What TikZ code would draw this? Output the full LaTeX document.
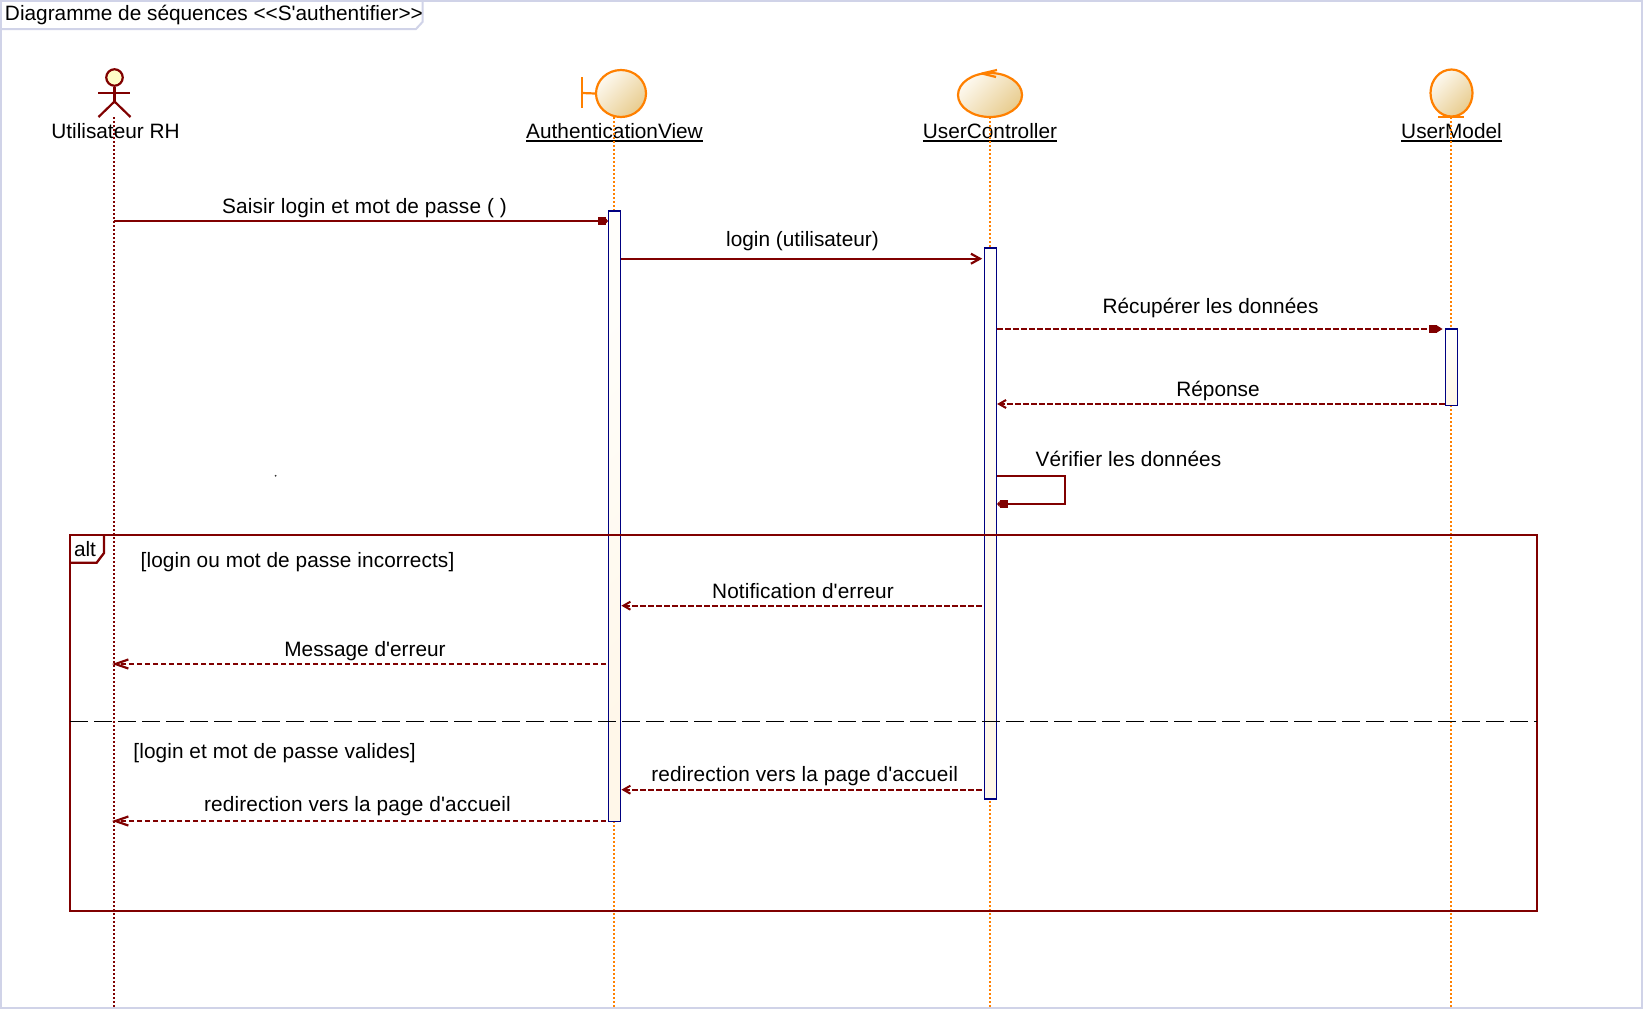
\documentclass[tikz,border=0pt]{standalone}
\usepackage{fontspec}
\setmainfont{Liberation Sans}[Ligatures=TeXOff]
\usetikzlibrary{arrows.meta,shapes.geometric}
\definecolor{frameblue}{HTML}{D0D3E8}
\definecolor{msgred}{HTML}{800000}
\definecolor{objorange}{HTML}{FF8000}
\definecolor{actnavy}{HTML}{000080}
\definecolor{objlight}{HTML}{FDF9F0}
\definecolor{objdark}{HTML}{E8CC8E}
\definecolor{actlight}{HTML}{FFFEFB}
\definecolor{actdark}{HTML}{FFF7E9}
\tikzset{
  txt/.style={font=\fontsize{20.8}{24}\selectfont,inner sep=0pt,outer sep=0pt,anchor=base,text=black},
  spaced/.style={font=\fontsize{20.8}{24}\selectfont\addfontfeature{LetterSpace=#1}},
  objname/.style={txt},
  underl/.style={black,line width=2.2pt},
  lifeorange/.style={objorange,line width=2.2pt,dash pattern=on 2pt off 2pt},
  lifered/.style={msgred,line width=2.2pt,dash pattern=on 2pt off 2pt},
  objshape/.style={ellipse,draw=objorange,line width=2.2pt,inner sep=0pt,top color=objlight,bottom color=objdark,shading angle=45},
  objline/.style={objorange,line width=2.2pt},
  actorline/.style={msgred,line width=2.2pt},
  activ/.style={rectangle,draw=actnavy,line width=1.4pt,inner sep=0pt,minimum width=12pt,top color=actlight,bottom color=actdark,shading angle=45},
  solidmsg/.style={msgred,line width=2.2pt},
  dashmsg/.style={msgred,line width=2.2pt,dash pattern=on 5.5pt off 2.5pt},
  tipfilled/.style={-{Rectangle[length=8pt,width=8pt]Triangle[length=2.5pt,width=6pt]}},
  tiplong/.style={-{Rectangle[length=8pt,width=8pt]Triangle[length=6pt,width=7pt]}},
  tipopen/.style={-{Straight Barb[length=9pt,width=10pt,line width=2.2pt]}},
  tipsmall/.style={-{Straight Barb[length=7pt,width=8pt,line width=2pt]}},
  tipbig/.style={-{Straight Barb[length=13pt,width=9pt,line width=2.2pt]}},
  altframe/.style={msgred,line width=2.3pt},
}
\begin{document}
\begin{tikzpicture}[x=1pt,y=-1pt]
\useasboundingbox (0,0) rectangle (1643,1009);
\fill[white] (0,0) rectangle (1643,1009);
% outer frame
\draw[frameblue,line width=2pt] (0.6,0.6) -- (1642,0.6) -- (1642,1008) -- (0.6,1008) -- cycle;
\draw[frameblue,line width=2pt] (0.6,29) -- (416,29) -- (422.5,22) -- (422.5,0.6);
\node[txt,anchor=base west] (title) at (5,20.7) {Diagramme de séquences <<S'authentifier>>};

% object names
\node[objname] (nU) at (115.5,138.3) {Utilisateur RH};
\node[objname] (nA) at (614.5,138.3) {AuthenticationView};
\node[objname] (nC) at (990,138.3) {UserController};
\node[objname] (nM) at (1451.5,138.3) {UserModel};
\coordinate (ul) at (0,141);
\draw[underl] (nA.west |- ul) -- (nA.east |- ul);
\draw[underl] (nC.west |- ul) -- (nC.east |- ul);
\draw[underl] (nM.west |- ul) -- (nM.east |- ul);

% lifelines
\coordinate (tU) at (114,117); \coordinate (bU) at (114,1007);
\coordinate (tA) at (614,117); \coordinate (bA) at (614,1007);
\coordinate (tC) at (990,117); \coordinate (bC) at (990,1007);
\coordinate (tM) at (1451,117); \coordinate (bM) at (1451,1007);
\draw[lifered] (tU) -- (bU);
\draw[lifeorange] (tA) -- (bA);
\draw[lifeorange] (tC) -- (bC);
\draw[lifeorange] (tM) -- (bM);

% actor
\node[circle,draw=msgred,line width=2.2pt,inner sep=0pt,minimum size=16.5pt,fill=yellow!22] (head) at (114.5,77.5) {};
\coordinate (hip) at (114.5,101.5);
\coordinate (armL) at (98,92.7); \coordinate (armR) at (130,92.7);
\coordinate (legL) at (98.5,117); \coordinate (legR) at (130.5,117);
\draw[actorline] (head.south) -- (hip);
\draw[actorline] (armL) -- (armR);
\draw[actorline] (legL) -- (hip) -- (legR);

% boundary
\node[objshape,minimum width=50pt,minimum height=47pt] (bnd) at (621,93.5) {};
\coordinate (bar1) at (582,77); \coordinate (bar2) at (582,108);
\coordinate (barm) at (582,93);
\draw[objline] (bar1) -- (bar2);
\draw[objline] (barm) -- (bnd.west);

% control
\node[objshape,minimum width=64pt,minimum height=44pt] (ctl) at (990,95) {};
\coordinate (ct1) at (997,70); \coordinate (ctt) at (982,73.5); \coordinate (ct2) at (996,77);
\draw[objline,line join=round] (ct1) -- (ctt) -- (ct2);

% entity
\node[objshape,minimum width=42pt,minimum height=47pt] (ent) at (1451.5,93) {};
\coordinate (e1) at (1438,117); \coordinate (e2) at (1464,117);
\draw[objline] (e1) -- (e2);

% activations
\node[activ,minimum height=610.7pt] (aA) at (614.7,516.3) {};
\node[activ,minimum height=551pt] (aC) at (990.4,523.5) {};
\node[activ,minimum height=76.7pt] (aM) at (1451.3,367.3) {};

% messages
\coordinate (y1) at (0,221);
\coordinate (y2) at (0,258.7);
\coordinate (y3) at (0,329);
\coordinate (y4) at (0,404);
\coordinate (y5) at (0,475.7);
\coordinate (y5b) at (0,504);
\coordinate (y6) at (0,605.7);
\coordinate (y7) at (0,664);
\coordinate (y8) at (0,789.7);
\coordinate (y9) at (0,821);
\coordinate (sx) at (1065,0);

\draw[solidmsg,tipfilled] (tU |- y1) -- (aA.west |- y1);
\node[txt,spaced=0.78] (l1) at (364.5,213.5) {Saisir login et mot de passe ( )};
\draw[solidmsg,tipopen] (aA.east |- y2) -- ([xshift=-1.5pt]aC.west |- y2);
\node[txt] (l2) at (802.5,246) {login (utilisateur)};
\draw[dashmsg,tiplong] (aC.east |- y3) -- ([xshift=-2pt]aM.west |- y3);
\node[txt,spaced=0.25] (l3) at (1210.5,313.3) {Récupérer les données};
\draw[dashmsg,tipsmall] (aM.west |- y4) -- (aC.east |- y4);
\node[txt] (l4) at (1218,396) {Réponse};
\draw[solidmsg,tipfilled] (aC.east |- y5) -- (sx |- y5) -- (sx |- y5b) -- (aC.east |- y5b);
\node[txt,spaced=0.5] (l5) at (1128.5,466.5) {Vérifier les données};

% stray dot
\fill[black!80] (275.6,475.8) circle (1pt);

% alt fragment
\coordinate (f1) at (70,535); \coordinate (f2) at (1536.7,910.7);
\draw[altframe] (f1) rectangle (f2);
\coordinate (t1) at (70,562.7); \coordinate (t2) at (96.7,562.7); \coordinate (t3) at (104,553); \coordinate (t4) at (104,535);
\draw[altframe] (t1) -- (t2) -- (t3) -- (t4);
\node[txt,anchor=base west] (altl) at (74,556) {alt};
\node[txt,spaced=0.45,anchor=base west] (g1) at (140.7,567.7) {[login ou mot de passe incorrects]};
\node[txt,spaced=0.5,anchor=base west] (g2) at (133.4,758) {[login et mot de passe valides]};
\coordinate (sepL) at (70,721.3); \coordinate (sepR) at (1536.7,721.3);
\draw[black,line width=1.4pt,dash pattern=on 18pt off 6pt] (sepL) -- (sepR);

\draw[dashmsg,tipsmall] ([xshift=-2pt]aC.west |- y6) -- (aA.east |- y6);
\node[txt,spaced=0.5] (l6) at (803,598.5) {Notification d'erreur};
\draw[dashmsg,tipbig] ([xshift=-2pt]aA.west |- y7) -- ([xshift=-2pt]tU |- y7);
\node[txt] (l7) at (365,656) {Message d'erreur};
\draw[dashmsg,tipsmall] ([xshift=-2pt]aC.west |- y8) -- (aA.east |- y8);
\node[txt,spaced=0.76] (l8) at (804.7,781.5) {redirection vers la page d'accueil};
\draw[dashmsg,tipbig] ([xshift=-2pt]aA.west |- y9) -- ([xshift=-2pt]tU |- y9);
\node[txt,spaced=0.76] (l9) at (357.5,811.7) {redirection vers la page d'accueil};
\end{tikzpicture}
\end{document}
